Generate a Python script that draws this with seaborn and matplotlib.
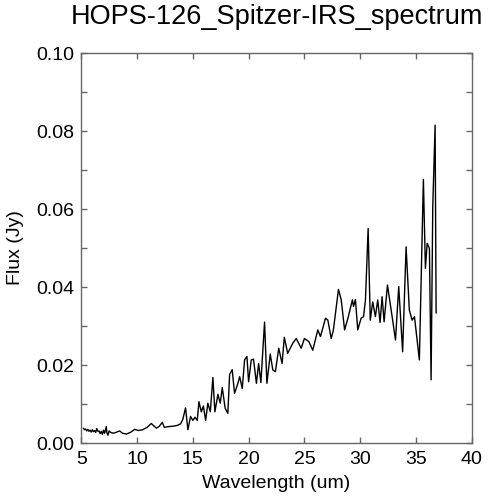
import pandas as pd
import matplotlib
matplotlib.use("Agg")
import matplotlib.pyplot as plt
from matplotlib.ticker import MultipleLocator, FormatStrFormatter
import seaborn as sns

# Spectrum (wavelength in um, flux in Jy)
wavelength = [5.2, 5.3, 5.4, 5.5, 5.6, 5.7, 5.8, 5.9, 6.0, 6.1, 6.2, 6.3, 6.4, 6.5,
              6.6, 6.7, 6.8, 6.9, 7.0, 7.1, 7.2, 7.25, 7.3, 7.4, 7.5, 7.6,
              7.85, 8.1, 8.45, 8.7, 9.05, 9.4, 9.8, 10.1, 10.5, 10.9, 11.28, 11.5,
              11.75, 12.0, 12.27, 12.45, 12.8, 13.2, 13.6, 13.9, 14.1, 14.35, 14.56,
              14.8, 15.0, 15.2, 15.4, 15.55, 15.76, 15.95, 16.15, 16.35, 16.57, 16.8,
              16.98, 17.25, 17.46, 17.64, 17.9, 18.14, 18.3, 18.53, 18.74, 19.04, 19.2,
              19.43, 19.64, 19.85, 20.0, 20.24, 20.44, 20.7, 20.9, 21.1, 21.43, 21.64,
              21.94, 22.17, 22.4, 22.7, 23.0, 23.2, 23.5, 23.96, 24.27, 24.71, 25.0,
              25.4, 25.75, 26.2, 26.44, 26.89, 27.1, 27.4, 27.6, 28.05, 28.3, 28.6,
              28.9, 29.3, 29.4, 29.57, 29.78, 30.08, 30.3, 30.47, 30.71, 30.9, 31.12,
              31.36, 31.57, 31.78, 31.96, 32.14, 32.44, 32.86, 33.16, 33.45, 33.8,
              34.11, 34.4, 34.65, 34.86, 35.3, 35.66, 35.84, 36.0, 36.2, 36.35, 36.5,
              36.71, 36.8]
flux = [0.0038, 0.0034, 0.0036, 0.0031, 0.0035, 0.0030, 0.0033, 0.0028, 0.0034, 0.0029,
        0.0032, 0.0027, 0.0037, 0.0030, 0.0031, 0.0024, 0.0030, 0.0022, 0.0033, 0.0025,
        0.0036, 0.0042, 0.0027, 0.0020, 0.0031, 0.0028,
        0.0025, 0.0027, 0.0031, 0.0025, 0.0023, 0.0027,
        0.0035, 0.0032, 0.0034, 0.0040, 0.0050, 0.0044, 0.0038, 0.0043, 0.0053, 0.0040,
        0.0042, 0.0043, 0.0045, 0.0049, 0.0060, 0.0090, 0.0034, 0.0068, 0.0058, 0.0066,
        0.0058, 0.0106, 0.0080, 0.0095, 0.0058, 0.0102, 0.0080, 0.0168, 0.0080, 0.0125,
        0.0102, 0.0142, 0.0089, 0.0076, 0.0176, 0.0188, 0.0127, 0.0153, 0.0170, 0.0140,
        0.0213, 0.0222, 0.0157, 0.0213, 0.0215, 0.0153, 0.0204, 0.0155, 0.0310, 0.0153,
        0.0228, 0.0187, 0.0183, 0.0243, 0.0204, 0.0271, 0.0230, 0.0256, 0.0268, 0.0243,
        0.0268, 0.0260, 0.0238, 0.0290, 0.0273, 0.0320, 0.0315, 0.0268, 0.0290, 0.0394,
        0.0367, 0.0290, 0.0320, 0.0367, 0.0350, 0.0368, 0.0290, 0.0320, 0.0324, 0.0367,
        0.0550, 0.0315, 0.0362, 0.0324, 0.0367, 0.0309, 0.0375, 0.0311, 0.0405, 0.0324,
        0.0264, 0.0401, 0.0234, 0.0503, 0.0341, 0.0315, 0.0324, 0.0213, 0.0676, 0.0448,
        0.0512, 0.0499, 0.0162, 0.0606, 0.0815, 0.0333]

df = pd.DataFrame({"wavelength": wavelength, "flux": flux})

sns.set_style("ticks")
plt.rcParams['font.family'] = ['Liberation Sans', 'DejaVu Sans']
plt.rcParams['text.color'] = 'black'
plt.rcParams['axes.labelcolor'] = 'black'
plt.rcParams['xtick.labelcolor'] = 'black'
plt.rcParams['ytick.labelcolor'] = 'black'

fig = plt.figure(figsize=(4.92, 5.0), dpi=100)
ax = fig.add_axes([0.165, 0.114, 0.794, 0.78])

sns.lineplot(data=df, x="wavelength", y="flux", ax=ax, color="black",
             linewidth=1.0, estimator=None, sort=False)

ax.set_xlim(5, 40)
ax.set_ylim(0, 0.10)
ax.xaxis.set_major_locator(MultipleLocator(5))
ax.yaxis.set_major_locator(MultipleLocator(0.02))
ax.yaxis.set_minor_locator(MultipleLocator(0.01))
ax.yaxis.set_major_formatter(FormatStrFormatter("%.2f"))

for s in ax.spines.values():
    s.set_color("#666666")
    s.set_linewidth(1.0)
ax.tick_params(which="both", direction="in", top=True, right=True,
               length=4.5, width=1.0, color="#666666", labelsize=14,
               labelcolor="black")
ax.tick_params(axis="x", pad=6)
ax.tick_params(axis="y", pad=5)

ax.set_title("HOPS-126_Spitzer-IRS_spectrum", fontsize=19.5, pad=21, color="black")
ax.set_xlabel("Wavelength (um)", fontsize=14, labelpad=5, color="black")
ax.set_ylabel("Flux (Jy)", fontsize=14, labelpad=9, color="black")

plt.savefig("out.png", dpi=100)
